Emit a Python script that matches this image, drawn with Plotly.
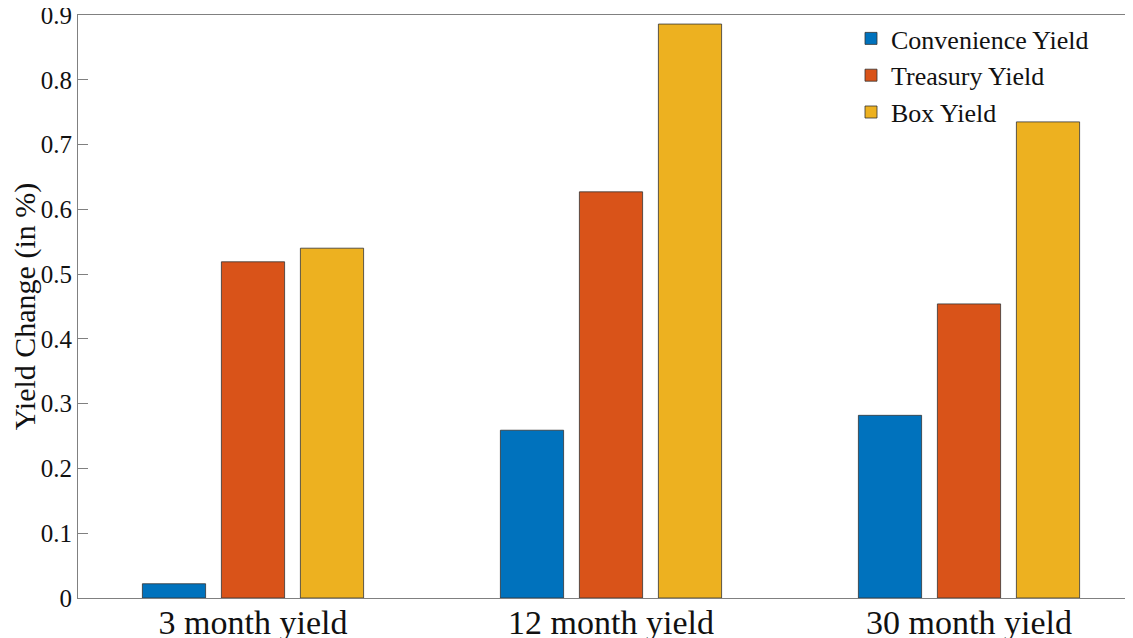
import plotly.graph_objects as go

categories = ["3 month yield", "12 month yield", "30 month yield"]
convenience = [0.022, 0.259, 0.282]
treasury = [0.519, 0.627, 0.454]
box = [0.540, 0.886, 0.735]
series_names = ["Convenience Yield", "Treasury Yield", "Box Yield"]
colors = ["#0072BD", "#D95319", "#EDB120"]
yticks = [0, 0.1, 0.2, 0.3, 0.4, 0.5, 0.6, 0.7, 0.8, 0.9]

xpos = [1, 2, 3]
fig = go.Figure()
for name, vals, col in zip(series_names, [convenience, treasury, box], colors):
    fig.add_trace(go.Bar(x=xpos, y=vals, name=name, marker=dict(color=col, line=dict(color="#333333", width=0.8))))

# page body has an 8px margin; figure sized so it fits the window exactly
W, H = 1125, 630
L, R, T, B = 70, 0, 7, 40
pw = W - L - R
unit = 358.0
x0 = 1 - (245 - L) / unit
x1 = x0 + pw / unit

fig.update_layout(
    width=W, height=H,
    margin=dict(l=L, r=R, t=T, b=B, autoexpand=False),
    paper_bgcolor="white", plot_bgcolor="white",
    barmode="group", bargap=0.338, bargroupgap=0.2,
    font=dict(family="Liberation Serif", color="#111111"),
    showlegend=True,
    legend=dict(x=(843 - L) / pw, y=1.0, xanchor="left", yanchor="top",
                font=dict(size=26, family="Liberation Serif"), bgcolor="rgba(0,0,0,0)",
                itemwidth=30, tracegroupgap=0, traceorder="normal"),
    xaxis=dict(range=[x0, x1], tickmode="array", tickvals=xpos, ticktext=categories,
               tickfont=dict(size=34), showgrid=False, zeroline=False, automargin=False,
               showline=True, linecolor="#808080", linewidth=1, mirror=True,
               ticks="", ticklen=0, ticklabelstandoff=-6, ticklabeloverflow="allow"),
    yaxis=dict(range=[0, 0.9], tickvals=yticks, ticktext=[("%g" % v) for v in yticks],
               tickfont=dict(size=25), showgrid=False, zeroline=False, automargin=False,
               showline=True, linecolor="#808080", linewidth=1,
               ticks="inside", ticklen=10, tickcolor="#808080", ticklabeloverflow="allow",
               title=dict(text="Yield Change (in %)", font=dict(size=30), standoff=2)),
)
fig.write_html("out.html")
